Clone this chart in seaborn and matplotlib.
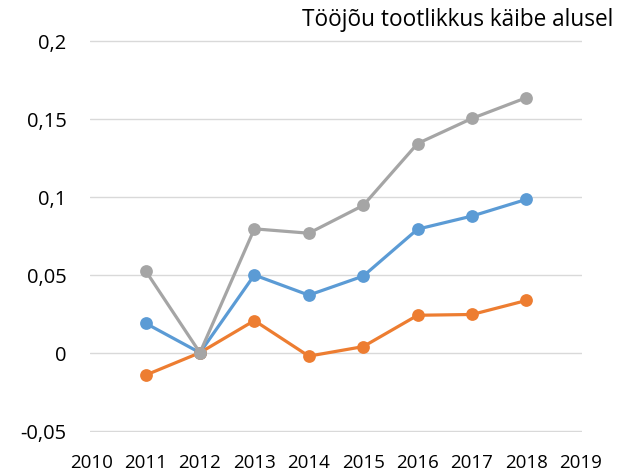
import matplotlib
matplotlib.use("Agg")
import matplotlib.pyplot as plt
import matplotlib.ticker as mticker
import pandas as pd
import seaborn as sns

years = [2011, 2012, 2013, 2014, 2015, 2016, 2017, 2018]
series_1 = [0.0189, 0.0, 0.0498, 0.0369, 0.0491, 0.0792, 0.0876, 0.0983]
series_2 = [-0.0144, 0.0, 0.0206, -0.0022, 0.0039, 0.0240, 0.0245, 0.0335]
series_3 = [0.0526, 0.0, 0.0794, 0.0766, 0.0944, 0.1341, 0.1502, 0.1635]
series_names = ["1", "2", "3"]
colors = ["#5B9BD5", "#ED7D31", "#A5A5A5"]
x_ticks = list(range(2010, 2020))
y_ticks = [-0.05, 0, 0.05, 0.1, 0.15, 0.2]
title = "Tööjõu tootlikkus käibe alusel"

df = pd.DataFrame({
    "year": years * 3,
    "value": series_1 + series_2 + series_3,
    "series": [n for n, s in zip(series_names, [series_1, series_2, series_3]) for _ in s],
})

sns.set_theme(style="white")
plt.rcParams["font.family"] = ["Open Sans", "DejaVu Sans"]

fig = plt.figure(figsize=(6.25, 4.77), dpi=100)
# axes spans -0.05..0.2 vertically with a hair of room for the bottom grid line
ax = fig.add_axes([90 / 625, 1 - 433 / 477, 492 / 625, (433 - 40.7) / 477])

sns.lineplot(data=df, x="year", y="value", hue="series", hue_order=series_names,
             palette=colors, marker="o", markersize=9.2, markeredgewidth=0,
             linewidth=2.3, legend=False, ax=ax, zorder=3)

ax.set_xlim(2009.98, 2019.02)
span = 0.25 / (431.7 - 41.7)
ax.set_ylim(-0.05 - 1.3 * span, 0.2 + 1.0 * span)
ax.set_xticks(x_ticks)
ax.set_xticklabels([str(x) for x in x_ticks])
ax.set_yticks(y_ticks)
ax.yaxis.set_major_formatter(mticker.FuncFormatter(
    lambda v, p: ("%g" % round(v, 4)).replace(".", ",")))
ax.grid(axis="y", color="#D9D9D9", linewidth=1.0, zorder=0)
ax.grid(axis="x", visible=False)
for s in ax.spines.values():
    s.set_visible(False)
ax.tick_params(axis="y", length=0, pad=17, labelsize=14.5, colors="#000000")
ax.tick_params(axis="x", length=0, pad=15, labelsize=13.5, colors="#000000")
ax.set_xlabel("")
ax.set_ylabel("")

fig.text(613 / 625, 1 - 20 / 477, title, ha="right", va="center",
         fontsize=16.3, color="#000000")

fig.savefig("out.png", dpi=100)
